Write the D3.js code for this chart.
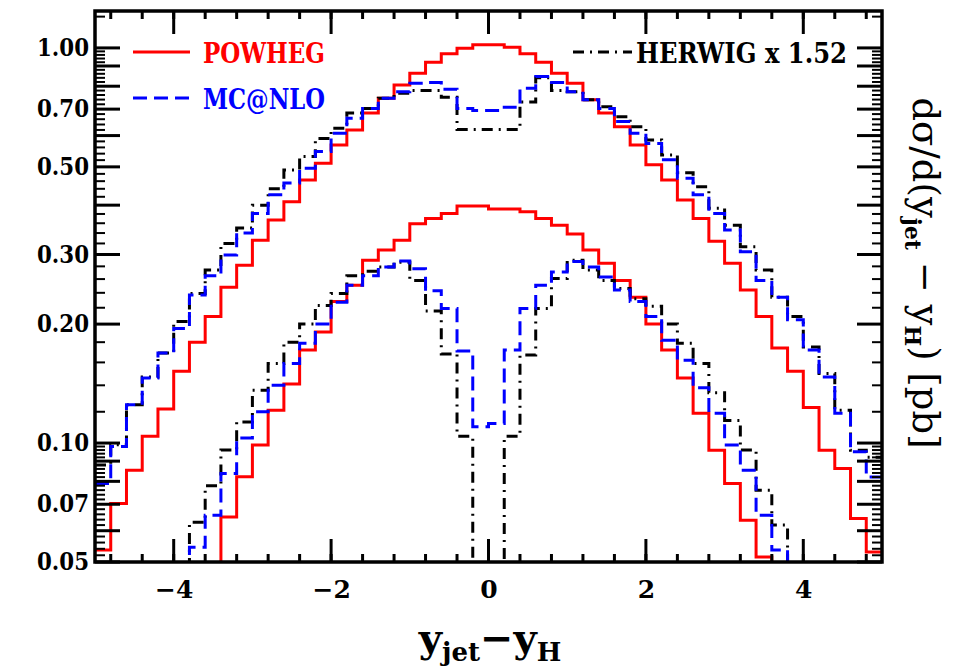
<!DOCTYPE html>
<html>
<head>
<meta charset="utf-8">
<script src="https://cdn.jsdelivr.net/npm/d3@7"></script>
<style>
  html, body { margin: 0; padding: 0; background: #fff; }
  svg text { font-family: "DejaVu Serif", serif; }
</style>
</head>
<body>
<svg id="chart"></svg>
<script>
const width = 958, height = 670;

// bins: 50 bins of width 0.2 from -5 to 5
const xMin = -5, xMax = 5, binWidth = 0.2;
const OFF = 0.03; // value below the plotted range, cut at the frame

// upper set of curves
const powhegHi = [0.0536, 0.0703, 0.0854, 0.104, 0.122, 0.152, 0.180, 0.209, 0.248, 0.282,
  0.326, 0.367, 0.408, 0.463, 0.511, 0.568, 0.620, 0.684, 0.746, 0.806,
  0.863, 0.920, 0.966, 0.998, 1.018, 1.018, 1.004, 0.966, 0.920, 0.863,
  0.814, 0.739, 0.684, 0.632, 0.568, 0.506, 0.463, 0.412, 0.370, 0.324,
  0.285, 0.244, 0.209, 0.174, 0.152, 0.123, 0.0959, 0.0862, 0.0644, 0.053];
const mcnloHi = [0.079, 0.098, 0.125, 0.146, 0.169, 0.195, 0.237, 0.265, 0.299, 0.340,
  0.381, 0.425, 0.455, 0.496, 0.547, 0.608, 0.664, 0.703, 0.746, 0.775,
  0.814, 0.817, 0.786, 0.703, 0.694, 0.694, 0.708, 0.790, 0.846, 0.817,
  0.775, 0.739, 0.703, 0.651, 0.608, 0.573, 0.521, 0.468, 0.425, 0.381,
  0.346, 0.305, 0.258, 0.234, 0.205, 0.172, 0.147, 0.119, 0.095, 0.082];
const herwigHi = [0.088, 0.099, 0.125, 0.147, 0.169, 0.203, 0.239, 0.274, 0.320, 0.350,
  0.400, 0.440, 0.491, 0.531, 0.590, 0.626, 0.684, 0.703, 0.746, 0.768,
  0.780, 0.780, 0.750, 0.622, 0.622, 0.622, 0.622, 0.730, 0.840, 0.780,
  0.775, 0.739, 0.710, 0.670, 0.632, 0.585, 0.536, 0.483, 0.445, 0.393,
  0.356, 0.314, 0.274, 0.234, 0.209, 0.175, 0.150, 0.121, 0.0959, 0.092];

// lower set of curves
const powhegLo = [OFF, OFF, OFF, OFF, OFF, OFF, OFF, OFF, 0.065, 0.0822,
  0.0988, 0.121, 0.141, 0.172, 0.191, 0.228, 0.251, 0.290, 0.308, 0.326,
  0.359, 0.370, 0.381, 0.398, 0.398, 0.391, 0.391, 0.385, 0.370, 0.356,
  0.338, 0.308, 0.285, 0.258, 0.234, 0.200, 0.172, 0.146, 0.119, 0.0959,
  0.079, 0.0638, 0.0515, OFF, OFF, OFF, OFF, OFF, OFF, OFF];
const mcnloLo = [OFF, OFF, OFF, OFF, OFF, OFF, 0.0545, 0.0657, 0.0838, 0.103,
  0.120, 0.140, 0.159, 0.179, 0.200, 0.227, 0.251, 0.265, 0.279, 0.289,
  0.276, 0.243, 0.219, 0.171, 0.110, 0.112, 0.172, 0.219, 0.251, 0.271,
  0.288, 0.279, 0.263, 0.244, 0.228, 0.209, 0.182, 0.162, 0.138, 0.119,
  0.0988, 0.0854, 0.0657, 0.0536, OFF, OFF, OFF, OFF, OFF, OFF];
const herwigLo = [OFF, OFF, OFF, OFF, OFF, OFF, 0.063, 0.078, 0.096, 0.113,
  0.136, 0.159, 0.180, 0.200, 0.223, 0.239, 0.265, 0.272, 0.279, 0.287,
  0.258, 0.216, 0.168, 0.104, OFF, OFF, 0.104, 0.167, 0.219, 0.261,
  0.290, 0.274, 0.258, 0.246, 0.232, 0.222, 0.200, 0.179, 0.159, 0.134,
  0.114, 0.096, 0.076, 0.062, OFF, OFF, OFF, OFF, OFF, OFF];

const seriesNames = ["POWHEG", "MC@NLO", "HERWIG x 1.52"];
const seriesColors = ["#ff0000", "#0000ff", "#000000"];
const seriesDash = [null, "14,7", "11,6,2,6"];

const yTickValues = [1.0, 0.7, 0.5, 0.3, 0.2, 0.1, 0.07, 0.05];
const yTickLabels = ["1.00", "0.70", "0.50", "0.30", "0.20", "0.10", "0.07", "0.05"];
const xTickValues = [-4, -2, 0, 2, 4];
const xTickLabels = ["\u22124", "\u22122", "0", "2", "4"];

const pLeft = 95, pRight = 882, pTop = 11, pBottom = 562;

const svg = d3.select("#chart").attr("width", width).attr("height", height);

const x = d3.scaleLinear().domain([xMin, xMax]).range([pLeft, pRight]);
const y = d3.scaleLog().domain([0.05, 1.24]).range([pBottom, pTop]);

// tick positions, TopDrawer style: long every decade unit, short every fifth of it
const yLong = [], yShort = [];
[0.01, 0.1, 1].forEach(d => {
  for (let k = 1; k <= 9; k++) {
    const v = +(k * d).toFixed(4);
    if (v >= 0.05 && v <= 1.24) yLong.push(v);
    for (let j = 1; j < 5; j++) {
      const s = +((k + j / 5) * d).toFixed(5);
      if (s > 0.05 && s < 1.24) yShort.push(s);
    }
  }
});
const xShort = d3.range(-12, 13).map(k => +(k * 0.4).toFixed(2));

svg.append("defs").append("clipPath").attr("id", "plotclip")
  .append("rect").attr("x", pLeft).attr("y", pTop)
  .attr("width", pRight - pLeft).attr("height", pBottom - pTop);

// histograms
const edges = d3.range(0, 51).map(k => xMin + k * binWidth);
const step = d3.line().curve(d3.curveStepAfter).x(d => x(d[0])).y(d => y(d[1]));
const plot = svg.append("g").attr("clip-path", "url(#plotclip)");
const curves = [
  [powhegHi, 0], [powhegLo, 0],
  [herwigHi, 2], [herwigLo, 2],
  [mcnloHi, 1], [mcnloLo, 1]
];
curves.forEach(([vals, s]) => {
  const pts = edges.map((e, i) => [e, vals[Math.min(i, vals.length - 1)]]);
  plot.append("path").attr("d", step(pts))
    .attr("fill", "none").attr("stroke", seriesColors[s]).attr("stroke-width", 3)
    .attr("stroke-dasharray", seriesDash[s]);
});

// inward ticks on all four sides, drawn as plain lines from the scales
const ticks = svg.append("g").attr("stroke", "#000");
function yTicks(vals, len, sw) {
  [[pLeft, 1], [pRight, -1]].forEach(([x0, dir]) => {
    ticks.selectAll(null).data(vals).join("line")
      .attr("x1", x0).attr("x2", x0 + dir * len)
      .attr("y1", d => y(d)).attr("y2", d => y(d))
      .attr("stroke-width", sw);
  });
}
function xTicks(vals, len, sw) {
  [[pBottom, -1], [pTop, 1]].forEach(([y0, dir]) => {
    ticks.selectAll(null).data(vals).join("line")
      .attr("y1", y0).attr("y2", y0 + dir * len)
      .attr("x1", d => x(d)).attr("x2", d => x(d))
      .attr("stroke-width", sw);
  });
}
yTicks(yLong, 25, 3);
yTicks(yShort, 10, 2);
xTicks(xTickValues, 23, 3);
xTicks(xShort, 8, 3);

// tick labels through the library axes
const yl = svg.append("g").attr("transform", `translate(${pLeft},0)`)
  .call(d3.axisLeft(y).tickValues(yTickValues).tickSize(0).tickPadding(6)
    .tickFormat((d, i) => yTickLabels[i]));
yl.select(".domain").remove();
yl.selectAll("text").attr("font-size", 24).attr("font-weight", "bold")
  .attr("font-family", "DejaVu Serif").attr("fill", "#000")
  .attr("textLength", 52).attr("lengthAdjust", "spacingAndGlyphs");
const xl = svg.append("g").attr("transform", `translate(0,${pBottom})`)
  .call(d3.axisBottom(x).tickValues(xTickValues).tickSize(0).tickPadding(18)
    .tickFormat((d, i) => xTickLabels[i]));
xl.select(".domain").remove();
xl.selectAll("text").attr("font-size", 25).attr("font-weight", "bold")
  .attr("font-family", "DejaVu Serif").attr("fill", "#000");

// frame
svg.append("rect").attr("x", pLeft).attr("y", pTop)
  .attr("width", pRight - pLeft).attr("height", pBottom - pTop)
  .attr("fill", "none").attr("stroke", "#000").attr("stroke-width", 3.5);

// legend
const legend = [
  { s: 0, x1: 133, x2: 190, ly: 52, tx: 203, w: 122 },
  { s: 1, x1: 133, x2: 190, ly: 98, tx: 203, w: 122 },
  { s: 2, x1: 573, x2: 632, ly: 52, tx: 636, w: 211 }
];
legend.forEach(l => {
  svg.append("line").attr("x1", l.x1).attr("x2", l.x2).attr("y1", l.ly).attr("y2", l.ly)
    .attr("stroke", seriesColors[l.s]).attr("stroke-width", 3)
    .attr("stroke-dasharray", seriesDash[l.s]);
  svg.append("text").attr("x", l.tx).attr("y", l.ly + 11)
    .attr("font-size", 28).attr("font-weight", "bold")
    .attr("fill", seriesColors[l.s])
    .attr("textLength", l.w).attr("lengthAdjust", "spacingAndGlyphs")
    .text(seriesNames[l.s]);
});

// x title
const xt = svg.append("text").attr("x", 490).attr("y", 652).attr("text-anchor", "middle")
  .attr("font-weight", "bold").attr("font-size", 40).attr("fill", "#000");
xt.append("tspan").text("y");
xt.append("tspan").attr("font-size", 26).attr("dy", 9).text("jet");
xt.append("tspan").attr("dy", -9).text("\u2212y");
xt.append("tspan").attr("font-size", 26).attr("dy", 9).text("H");

// y title, rotated
const yt = svg.append("text").attr("transform", "translate(913,273) rotate(90)")
  .attr("text-anchor", "middle").attr("font-size", 37).attr("fill", "#000");
yt.append("tspan").text("d\u03c3/d(y");
yt.append("tspan").attr("font-size", 22).attr("font-weight", "bold").attr("dy", 8).text("jet");
yt.append("tspan").attr("dy", -8).text(" \u2212 y");
yt.append("tspan").attr("font-size", 22).attr("font-weight", "bold").attr("dy", 8).text("H");
yt.append("tspan").attr("dy", -8).text(")  [pb]");
</script>
</body>
</html>
